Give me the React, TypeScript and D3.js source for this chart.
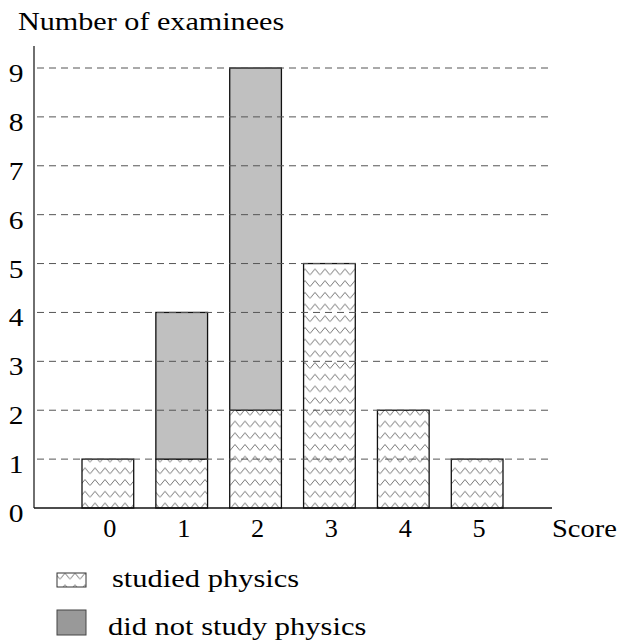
import * as d3 from "d3";

const scores = ["0", "1", "2", "3", "4", "5"];
const studied = [1, 1, 2, 5, 2, 1];
const notStudied = [0, 3, 7, 0, 0, 0];
const yTicks = [0, 1, 2, 3, 4, 5, 6, 7, 8, 9];
const legendLabels = ["studied physics", "did not study physics"];

const FONT = '"Liberation Serif", "Times New Roman", serif';
const SX = 1.18; // glyphs in the reference are a bit stretched horizontally

const Label = ({ x, y, size, anchor = "start", sx = SX, children }: any) => (
  <text
    transform={`translate(${x},${y}) scale(${sx},1)`}
    fontFamily={FONT}
    fontSize={size}
    textAnchor={anchor}
    fill="#000"
  >
    {children}
  </text>
);

export default function App() {
  const width = 622;
  const height = 642;

  const rows = scores.map((s, i) => ({
    score: s,
    studied: studied[i],
    notStudied: notStudied[i],
  }));
  const stacked = d3.stack<any>().keys(["studied", "notStudied"])(rows);

  const xScale = d3
    .scaleBand()
    .domain(scores)
    .range([82, 503])
    .paddingInner(0.3)
    .paddingOuter(0);

  const yScale = d3.scaleLinear().domain([0, 9]).range([508, 68]);
  const base = yScale(0);

  const axisX = 34;
  const axisRight = 552;

  return (
    <svg width={width} height={height} style={{ position: "absolute", left: 0, top: 0 }}>
      <defs>
        <pattern
          id="zigzag"
          patternUnits="userSpaceOnUse"
          x={0}
          y={base - 5.5}
          width={10}
          height={11.7}
        >
          <rect width={10} height={11.7} fill="#fff" />
          <path d="M0,6.5 L5,0.5 L10,6.5" fill="none" stroke="#555" strokeWidth={0.8} />
        </pattern>
      </defs>
      <rect width={width} height={height} fill="#fff" />

      {/* bars */}
      {stacked.map((layer) =>
        layer.map((d, i) => {
          const h = yScale(d[0]) - yScale(d[1]);
          if (h <= 0) return null;
          return (
            <rect
              key={layer.key + i}
              x={xScale(scores[i])}
              y={yScale(d[1])}
              width={xScale.bandwidth()}
              height={h}
              fill={layer.key === "studied" ? "url(#zigzag)" : "#c0c0c0"}
              stroke="#111"
              strokeWidth={1.3}
            />
          );
        })
      )}

      {/* dashed grid lines over bars */}
      {yTicks.slice(1).map((t) => (
        <line
          key={t}
          x1={axisX + 3}
          x2={axisRight}
          y1={yScale(t)}
          y2={yScale(t)}
          stroke="#555"
          strokeWidth={1}
          strokeDasharray="7,5"
        />
      ))}

      {/* axes */}
      <line x1={axisX} x2={axisX} y1={46} y2={base} stroke="#222" strokeWidth={1.3} />
      <line x1={axisX} x2={axisRight} y1={base} y2={base} stroke="#111" strokeWidth={1.3} />

      {yTicks.map((t) => (
        <Label key={t} x={16} y={yScale(t) + 14} size={25} anchor="middle">
          {t}
        </Label>
      ))}
      {scores.map((s) => (
        <Label key={s} x={(xScale(s) ?? 0) + xScale.bandwidth() / 2 + 2} y={537} size={25} anchor="middle" sx={1.05}>
          {s}
        </Label>
      ))}

      <Label x={18} y={30} size={26} sx={1.16}>Number of examinees</Label>
      <Label x={552} y={537} size={25} sx={1.14}>Score</Label>

      {/* legend */}
      <rect x={57} y={573} width={29} height={14} fill="url(#zigzag)" stroke="#333" strokeWidth={1} />
      <Label x={112} y={587} size={25} sx={1.22}>{legendLabels[0]}</Label>
      <rect x={57} y={610} width={29} height={25} fill="#999" stroke="#444" strokeWidth={1} />
      <Label x={108} y={635} size={25} sx={1.22}>{legendLabels[1]}</Label>
    </svg>
  );
}
